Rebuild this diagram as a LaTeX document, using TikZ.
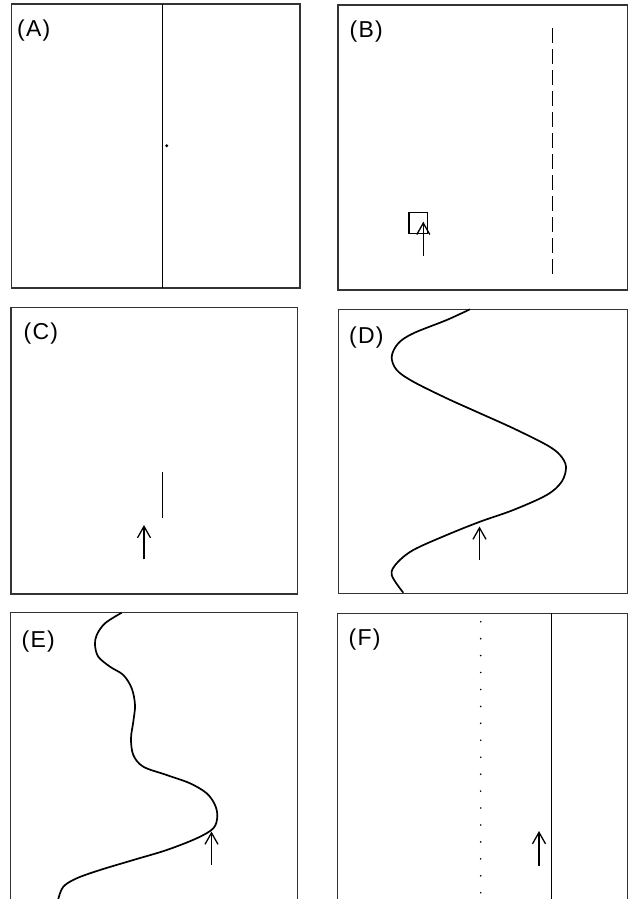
\documentclass[tikz,border=0pt]{standalone}
\usepackage{fontspec}
\setmainfont{Liberation Sans}
\usetikzlibrary{arrows.meta}
\tikzset{
  frame/.style={draw=black!80, line width=1.2pt},
  curve/.style={draw=black, line width=1.7pt, line join=round},
  vline/.style={draw=black, line width=1.5pt},
  probe/.style={draw=black, line width=1.3pt, -{Straight Barb[length=11.5pt, width=13pt, line width=1.3pt]}},
  lbl/.style={anchor=west, inner sep=0pt, font=\fontsize{23pt}{25pt}\selectfont},
}
\newcommand{\plab}[1]{(\kern1.2pt#1\kern1.2pt)}
\begin{document}
\begin{tikzpicture}[x=1pt, y=-1pt]
\useasboundingbox (0,0) rectangle (628,899);
% ---------- (A)
\draw[frame] (11.7,4) rectangle (300,288);
\node[lbl] (la) at (17,30.5) {\plab{A}};
\coordinate (a1) at (162.7,4);
\coordinate (a2) at (162.7,288);
\draw[vline] (a1) -- (a2);
\fill (166.7,145.7) circle (1.6);
% ---------- (B)
\draw[frame] (338,5) rectangle (627.3,290);
\node[lbl] (lb) at (349.5,32) {\plab{B}};
\coordinate (b1) at (552.7,28.3);
\coordinate (b2) at (552.7,275);
\draw[vline, dash pattern=on 15pt off 6pt] (b1) -- (b2);
\draw[black, line width=1.3pt] (409,212.3) rectangle (427.7,233.3);
\coordinate (bs) at (423.3,256);
\coordinate (bt) at (423.3,221.7);
\draw[probe] (bs) -- (bt);
% ---------- (C)
\draw[frame] (11,307.3) rectangle (297.7,594);
\node[lbl] (lc) at (23.5,333.3) {\plab{C}};
\coordinate (c1) at (162.3,472.3);
\coordinate (c2) at (162.3,517.7);
\draw[vline] (c1) -- (c2);
\coordinate (cs) at (144,559.3);
\coordinate (ct) at (144,525);
\draw[probe] (cs) -- (ct);
% ---------- (D)
\draw[frame] (338.3,309.3) rectangle (627.3,593.3);
\node[lbl] (ld) at (349,337.8) {\plab{D}};
\draw[curve] plot[smooth, tension=0.55] coordinates {
 (470,309.3) (446.7,320) (413.3,333.3) (398.3,343.3) (391.7,356.7)
 (396.7,370) (413.3,381.7) (446.7,398.3) (480,413.3) (513.3,428.3)
 (546.7,445) (560,455) (566,466.7) (561.7,481.7) (546.7,495)
 (513.3,510) (480,521.7) (446.7,535) (413.3,550) (396.7,563.3)
 (391.7,575) (403.3,592.7)};
\coordinate (ds) at (479.5,559.5);
\coordinate (dt) at (479.5,526.5);
\draw[probe] (ds) -- (dt);
% ---------- (E)
\draw[frame] (10.7,899) -- (10.7,612.7) -- (297.7,612.7) -- (297.7,899);
\node[lbl] (le) at (21.5,642) {\plab{E}};
\draw[curve] plot[smooth, tension=0.55] coordinates {
 (121.7,612.7) (105,623.3) (96.7,635) (95,645) (98.3,656.7)
 (110,666.7) (123.3,675) (131.7,688.3) (135,705) (133.3,721.7)
 (131,738.3) (133.3,755) (143.3,766.7) (166.7,775) (190,783.3)
 (206.7,793.3) (215,805) (217.3,816.7) (213.3,828.3) (196.7,838.3)
 (166.7,850) (133.3,860) (100,870) (76.7,878.3) (63.3,886.7) (58.3,899)};
\coordinate (es) at (211.5,864.5);
\coordinate (et) at (211.5,831.5);
\draw[probe] (es) -- (et);
% ---------- (F)
\draw[frame] (337.3,899) -- (337.3,613.3) -- (627.3,613.3) -- (627.3,899);
\node[lbl] (lf) at (348.5,639.7) {\plab{F}};
\coordinate (f1) at (551.7,613.3);
\coordinate (f2) at (551.7,899);
\draw[vline] (f1) -- (f2);
\foreach \k in {0,...,16} {
  \fill (480.7,621.7+16.94*\k) circle (0.9);
}
\coordinate (fs) at (539,865.7);
\coordinate (ft) at (539,831);
\draw[probe] (fs) -- (ft);
\end{tikzpicture}
\end{document}
